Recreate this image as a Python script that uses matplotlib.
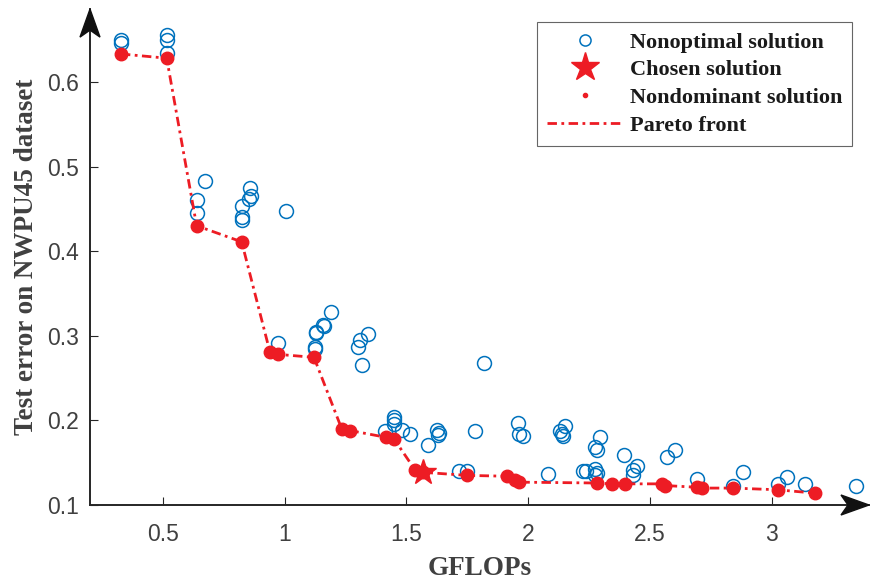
import matplotlib
matplotlib.use("Agg")
import matplotlib.pyplot as plt
from matplotlib.lines import Line2D
from matplotlib.patches import Polygon
from matplotlib.transforms import ScaledTranslation

# ---------------- data ----------------
nonopt_x = [0.327, 0.327, 0.515, 0.515, 0.515, 0.672, 0.641, 0.641, 0.857, 0.860, 0.855,
            0.823, 0.823, 0.823, 1.004, 0.973, 1.190, 1.158, 1.161, 1.127, 1.127, 1.124,
            1.124, 1.343, 1.309, 1.302, 1.319, 1.449, 1.449, 1.449, 1.412, 1.483, 1.514,
            1.590, 1.624, 1.635, 1.630, 1.780, 1.818, 1.717, 1.747, 1.959, 1.963, 1.977,
            2.083, 2.130, 2.153, 2.145, 2.140, 2.295, 2.274, 2.281, 2.226, 2.237, 2.274,
            2.281, 2.274, 2.395, 2.446, 2.432, 2.432, 2.569, 2.603, 2.695, 2.843, 2.884,
            3.025, 3.062, 3.137, 3.347]
nonopt_y = [0.650, 0.646, 0.655, 0.650, 0.634, 0.483, 0.461, 0.445, 0.475, 0.465, 0.462,
            0.453, 0.440, 0.437, 0.447, 0.292, 0.328, 0.313, 0.311, 0.305, 0.303, 0.287,
            0.284, 0.302, 0.295, 0.287, 0.265, 0.204, 0.200, 0.196, 0.187, 0.189, 0.184,
            0.171, 0.189, 0.185, 0.183, 0.187, 0.2675, 0.1405, 0.140, 0.197, 0.184, 0.181,
            0.1366, 0.187, 0.193, 0.181, 0.184, 0.180, 0.168, 0.165, 0.140, 0.140, 0.142,
            0.138, 0.135, 0.159, 0.1456, 0.1416, 0.135, 0.157, 0.1645, 0.1307, 0.123, 0.139,
            0.125, 0.133, 0.125, 0.122]

front_x = [0.327, 0.515, 0.638, 0.823, 0.939, 0.973, 1.120, 1.234, 1.268, 1.416, 1.449,
           1.535, 1.569, 1.750, 1.912, 1.946, 1.963, 2.281, 2.343, 2.398, 2.548, 2.562,
           2.692, 2.713, 2.843, 3.025, 3.178]
front_y = [0.633, 0.628, 0.430, 0.411, 0.281, 0.278, 0.2745, 0.190, 0.188, 0.180, 0.178,
           0.1416, 0.1386, 0.135, 0.134, 0.130, 0.127, 0.126, 0.125, 0.125, 0.125, 0.123,
           0.121, 0.120, 0.120, 0.118, 0.114]

chosen_x = [1.569]
chosen_y = [0.1386]

x_ticks = [0.5, 1, 1.5, 2, 2.5, 3]
x_ticklabels = ["0.5", "1", "1.5", "2", "2.5", "3"]
y_ticks = [0.1, 0.2, 0.3, 0.4, 0.5, 0.6]
y_ticklabels = ["0.1", "0.2", "0.3", "0.4", "0.5", "0.6"]

x_label = "GFLOPs"
y_label = "Test error on NWPU45 dataset"
legend_labels = ["Nonoptimal solution", "Chosen solution", "Nondominant solution", "Pareto front"]

# ---------------- style ----------------
BLUE = "#0072BD"
RED = "#ED1C24"
AX_COL = "#262626"
TXT_COL = "#404040"
SERIF = ["Liberation Serif", "DejaVu Serif"]
SANS = ["Liberation Sans", "DejaVu Sans"]
DASHDOT = (0, (3.4, 1.6, 1.0, 1.6))

fig = plt.figure(figsize=(8.79, 5.8), dpi=100)
ax = fig.add_axes([90 / 879, 0.1293, 1 - 90 / 879 - 10 / 879, 0.855])

ax.plot(nonopt_x, nonopt_y, linestyle="none", marker="o", markersize=10,
        markerfacecolor="none", markeredgecolor=BLUE, markeredgewidth=1.1, zorder=2)
ax.plot(front_x, front_y, linestyle=DASHDOT, color=RED, linewidth=2.0, zorder=3)
ax.plot(front_x, front_y, linestyle="none", marker="o", markersize=9,
        color=RED, zorder=4)
ax.plot(chosen_x, chosen_y, linestyle="none", marker="*", markersize=19,
        color=RED, zorder=5)

ax.set_xlim(0.2, 3.4)
ax.set_ylim(0.1, 0.686)

for s in ("top", "right"):
    ax.spines[s].set_visible(False)
for s in ("left", "bottom"):
    ax.spines[s].set_color(AX_COL)
    ax.spines[s].set_linewidth(1.4)

ax.set_xticks(x_ticks)
ax.set_xticklabels(x_ticklabels, fontfamily=SANS, fontsize=16.5, color=TXT_COL)
ax.set_yticks(y_ticks)
ax.set_yticklabels(y_ticklabels, fontfamily=SANS, fontsize=16.5, color=TXT_COL)
ax.tick_params(axis="both", direction="in", length=6, width=0.8, colors=AX_COL)
ax.tick_params(axis="x", pad=13, labelcolor=TXT_COL)
ax.tick_params(axis="y", pad=8, labelcolor=TXT_COL)

ax.set_xlabel(x_label, fontfamily=SERIF, fontweight="bold", fontsize=19.5, color=TXT_COL,
              labelpad=7)
ax.set_ylabel(y_label, fontfamily=SERIF, fontweight="bold", fontsize=19.5, color=TXT_COL,
              labelpad=6)

# arrowheads (pixel offsets converted to inches)
px = 1.0 / fig.dpi
xa = [(0, 0), (-28 * px, 10 * px), (-21 * px, 0), (-28 * px, -10 * px)]
ya = [(0, 0), (10 * px, -28 * px), (0, -21 * px), (-10 * px, -28 * px)]
tx = fig.dpi_scale_trans + ScaledTranslation(1.0, 0.0, ax.transAxes)
ty = fig.dpi_scale_trans + ScaledTranslation(0.0, 1.0, ax.transAxes)
ax.add_patch(Polygon(xa, closed=True, transform=tx, facecolor="#111111",
                     edgecolor="#111111", clip_on=False, zorder=6))
ax.add_patch(Polygon(ya, closed=True, transform=ty, facecolor="#111111",
                     edgecolor="#111111", clip_on=False, zorder=6))

handles = [
    Line2D([], [], linestyle="none", marker="o", markersize=8, markerfacecolor="none",
           markeredgecolor=BLUE, markeredgewidth=1.1),
    Line2D([], [], linestyle="none", marker="*", markersize=21, color=RED),
    Line2D([], [], linestyle="none", marker=".", markersize=6, color=RED),
    Line2D([], [], linestyle=DASHDOT, color=RED, linewidth=2.0),
]
leg = ax.legend(handles, legend_labels, loc="upper right",
                bbox_to_anchor=(852 / 879, 1 - 22 / 580), bbox_transform=fig.transFigure,
                prop={"family": SERIF, "weight": "bold", "size": 16},
                frameon=True, fancybox=False, edgecolor="#666666", framealpha=1,
                handlelength=3.4, handletextpad=0.3, labelspacing=0.32,
                borderpad=0.45, borderaxespad=0)
for t in leg.get_texts():
    t.set_color("#1a1a1a")
leg.get_frame().set_linewidth(0.8)

fig.savefig("out.png", dpi=100)
